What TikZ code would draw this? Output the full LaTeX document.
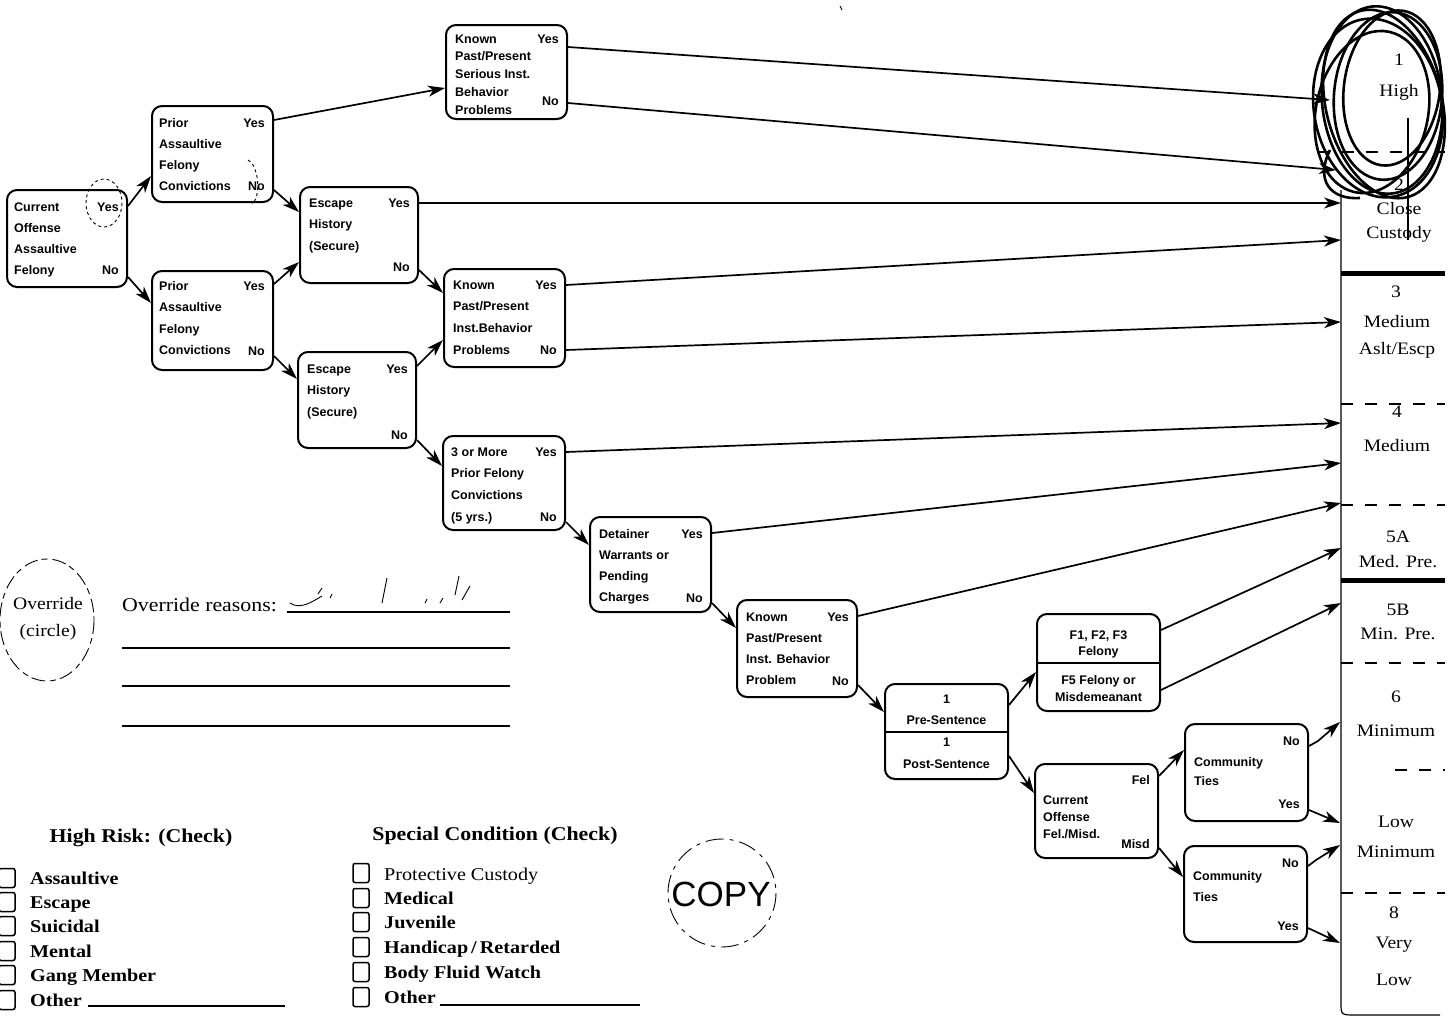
\documentclass[tikz,border=0pt]{standalone}
\usepackage{fontspec}
\setmainfont{Liberation Serif}
\newfontfamily\boxfont{Liberation Sans}
\newfontfamily\ff[FakeStretch=1.12]{Liberation Serif}
\newfontfamily\stampfont{Liberation Sans}
\usetikzlibrary{arrows.meta}

\tikzset{
  qbox/.style={draw, line width=2pt, rounded corners=10pt, inner sep=0pt},
  qtxt/.style={font=\boxfont\bfseries\fontsize{12.5}{14}\selectfont, inner sep=0pt},
  arr/.style={line width=1.7pt, -{Stealth[length=17pt,width=11pt,inset=5pt]}},
  coltxt/.style={font=\ff\fontsize{17.5}{20}\selectfont, inner sep=0pt},
  formtxt/.style={font=\ff\fontsize{18}{22}\selectfont, inner sep=0pt, anchor=base west},
  formbold/.style={font=\ff\bfseries\fontsize{18}{22}\selectfont, inner sep=0pt, anchor=base west},
  chk/.style={draw, line width=1.5pt, rounded corners=2pt, minimum width=16pt, minimum height=19pt, inner sep=0pt},
  sepdash/.style={line width=1.6pt, dash pattern=on 12pt off 12pt},
  septhick/.style={line width=5pt},
  rule/.style={line width=1.4pt},
  scrib/.style={line width=2.6pt},
  hand/.style={line width=0.9pt},
}

\newcommand\qbox[5]{\node[qbox,minimum width={#4-#2},minimum height={#5-#3}] (#1) at ({(#2+#4)/2},{(#3+#5)/2}) {};}
\newcommand\qlines[5]{\foreach \t [count=\i from 0] in {#5} {\node[qtxt,anchor=base west] at ([shift={(#2,{#3+\i*#4})}]#1.north west) {\t};}}
\newcommand\qr[3]{\node[qtxt,anchor=base east] at ([shift={(-9,#2)}]#1.north east) {#3};}
\newcommand\qc[3]{\node[qtxt,anchor=base] at ([shift={(0,#2)}]#1.north) {#3};}

\begin{document}
\begin{tikzpicture}[x=1pt,y=-1pt]
\useasboundingbox (0,0) rectangle (1452,1023);
\fill[white] (0,0) rectangle (1452,1023);

% ---------------- decision boxes ----------------
\qbox{b1}{7}{190}{127}{287}
\qlines{b1}{8}{22}{21}{Current,Offense,Assaultive,Felony}
\qr{b1}{22}{Yes}\qr{b1}{85}{No}

\qbox{b2}{152}{106}{273}{202}
\qlines{b2}{8}{22}{21}{Prior,Assaultive,Felony,Convictions}
\qr{b2}{22}{Yes}\qr{b2}{85}{No}

\qbox{b3}{152}{271}{273}{370}
\qlines{b3}{8}{20}{21.5}{Prior,Assaultive,Felony,Convictions}
\qr{b3}{20}{Yes}\qr{b3}{85}{No}

\qbox{b4}{446}{25}{567}{119}
\qlines{b4}{10}{19}{17.8}{Known,Past/Present,Serious Inst.,Behavior,Problems}
\qr{b4}{19}{Yes}\qr{b4}{81}{No}

\qbox{b5}{300}{187}{418}{283}
\qlines{b5}{10}{21}{21.5}{Escape,History,(Secure)}
\qr{b5}{21}{Yes}\qr{b5}{85}{No}

\qbox{b6}{444}{269}{565}{367}
\qlines{b6}{10}{21}{21.7}{Known,Past/Present,Inst.Behavior,Problems}
\qr{b6}{21}{Yes}\qr{b6}{86}{No}

\qbox{b7}{298}{352}{416}{448}
\qlines{b7}{10}{22}{21.5}{Escape,History,(Secure)}
\qr{b7}{22}{Yes}\qr{b7}{88}{No}

\qbox{b8}{443}{436}{565}{530}
\qlines{b8}{9}{21}{21.7}{3 or More,Prior Felony,Convictions,(5 yrs.)}
\qr{b8}{21}{Yes}\qr{b8}{86}{No}

\qbox{b9}{590}{517}{711}{612}
\qlines{b9}{10}{22}{21.3}{Detainer,Warrants or,Pending,Charges}
\qr{b9}{22}{Yes}\qr{b9}{86}{No}

\qbox{b10}{737}{600}{857}{697}
\qlines{b10}{10}{22}{21.3}{Known,Past/Present,Inst. Behavior,Problem}
\qr{b10}{22}{Yes}\qr{b10}{86}{No}

\qbox{b11}{885}{684}{1008}{779}
\draw[line width=2pt] (b11.west) -- (b11.east);
\qc{b11}{20}{1}\qc{b11}{41}{Pre-Sentence}\qc{b11}{63}{1}\qc{b11}{85}{Post-Sentence}

\qbox{b12}{1037}{614}{1160}{711}
\draw[line width=2pt] (b12.west) -- (b12.east);
\qc{b12}{26}{F1, F2, F3}\qc{b12}{42}{Felony}\qc{b12}{71}{F5 Felony or}\qc{b12}{88}{Misdemeanant}

\qbox{b13}{1035}{764}{1158}{858}
\qlines{b13}{9}{41}{17}{Current,Offense,Fel./Misd.}
\qr{b13}{21}{Fel}\qr{b13}{85}{Misd}

\qbox{b14}{1185}{724}{1308}{821}
\qlines{b14}{10}{43}{19}{Community,Ties}
\qr{b14}{22}{No}\qr{b14}{85}{Yes}

\qbox{b15}{1184}{846}{1307}{942}
\qlines{b15}{10}{35}{21}{Community,Ties}
\qr{b15}{22}{No}\qr{b15}{85}{Yes}

% ---------------- box-to-box connectors ----------------
\draw[arr] (b1.east |- 0,206) -- (b2.west |- 0,176);
\draw[arr] (b1.east |- 0,277) -- (b3.west |- 0,303);
\draw[arr] (b2.east |- 0,120) -- (b4.west |- 0,88);
\draw[arr] (b2.east |- 0,190) -- (b5.west |- 0,212);
\draw[arr] (b3.east |- 0,284) -- (b5.west |- 0,262);
\draw[arr] (b3.east |- 0,356) -- (b7.west |- 0,379);
\draw[arr] (b5.east |- 0,270) -- (b6.west |- 0,293);
\draw[arr] (b7.east |- 0,366) -- (b6.west |- 0,340);
\draw[arr] (b7.east |- 0,440) -- (b8.west |- 0,466);
\draw[arr] (b8.east |- 0,522) -- (b9.west |- 0,545);
\draw[arr] (b9.east |- 0,603) -- (b10.west |- 0,628);
\draw[arr] (b10.east |- 0,685) -- (b11.west |- 0,712);
\draw[arr] (b11.east |- 0,705) -- (b12.west |- 0,672);
\draw[arr] (b11.east |- 0,756) -- (b13.west |- 0,793);
\draw[arr] (b13.east |- 0,776) -- (b14.west |- 0,750);
\draw[arr] (b13.east |- 0,848) -- (b15.west |- 0,877);

% ---------------- custody level column ----------------
\coordinate (c1) at (1330,100);
\coordinate (c2) at (1336,170);
\coordinate (c3) at (1341,203);
\coordinate (c4) at (1341,240);
\coordinate (c5) at (1341,322);
\coordinate (c6) at (1341,423);
\coordinate (c7) at (1341,463);
\coordinate (c8) at (1341,503);
\coordinate (c9) at (1341,548);
\coordinate (c10) at (1341,603);
\coordinate (c11) at (1340,722);
\coordinate (c12) at (1340,823);
\coordinate (c13) at (1340,845);
\coordinate (c14) at (1340,943);

\draw[line width=1.2pt] (1341,190) -- (1341,1003) .. controls (1341,1015) .. (1356,1015) -- (1440,1015);
\draw[sepdash] (1318,152) -- (1445,152);
\draw[septhick] (1341,273) -- (1445,273);
\draw[sepdash] (1341,404) -- (1445,404);
\draw[sepdash] (1341,505) -- (1445,505);
\draw[septhick] (1341,580) -- (1445,580);
\draw[sepdash] (1341,663) -- (1445,663);
\draw[sepdash] (1395,770) -- (1445,770);
\draw[sepdash] (1341,893) -- (1445,893);

\node[coltxt] (k1) at (1399,60) {1};
\node[coltxt] (k1b) at (1399,92) {High};
\node[coltxt] (k2) at (1399,185) {2};
\node[coltxt] (k2b) at (1399,209) {Close};
\node[coltxt] (k2c) at (1399,234) {Custody};
\node[coltxt] (k3) at (1396,292) {3};
\node[coltxt] (k3b) at (1397,322) {Medium};
\node[coltxt] (k3c) at (1397,350) {Aslt/Escp};
\node[coltxt] (k4) at (1397,412) {4};
\node[coltxt] (k4b) at (1397,446) {Medium};
\node[coltxt] (k5) at (1398,537) {5A};
\node[coltxt] (k5b) at (1398,562) {Med. Pre.};
\node[coltxt] (k6) at (1398,610) {5B};
\node[coltxt] (k6b) at (1398,634) {Min. Pre.};
\node[coltxt] (k7) at (1396,697) {6};
\node[coltxt] (k7b) at (1396,731) {Minimum};
\node[coltxt] (k8) at (1396,822) {Low};
\node[coltxt] (k8b) at (1396,852) {Minimum};
\node[coltxt] (k9) at (1394,913) {8};
\node[coltxt] (k9b) at (1394,945) {Very};
\node[coltxt] (k9c) at (1394,980) {Low};

% connectors into the column
\draw[arr] (b4.east |- 0,47) -- (c1);
\draw[arr] (b4.east |- 0,103) -- (c2);
\draw[arr] (b5.east |- 0,203) -- (c3);
\draw[arr] (b6.east |- 0,285) -- (c4);
\draw[arr] (b6.east |- 0,350) -- (c5);
\draw[arr] (b8.east |- 0,452) -- (c6);
\draw[arr] (b9.east |- 0,533) -- (c7);
\draw[arr] (b10.east |- 0,616) -- (c8);
\draw[arr] (b12.east |- 0,630) -- (c9);
\draw[arr] (b12.east |- 0,690) -- (c10);
\draw[arr] (b14.east |- 0,746) -- (1318,741) -- (c11);
\draw[arr] (b14.east |- 0,810) -- (c12);
\draw[arr] (b15.east |- 0,866) -- (1316,860) -- (c13);
\draw[arr] (b15.east |- 0,928) -- (c14);

% hand-drawn scribble around "1 High"
\draw[scrib] (1382,100) ellipse [x radius=60, y radius=94, rotate=6];
\draw[scrib] (1388,96) ellipse [x radius=54, y radius=84, rotate=-5];
\draw[scrib] (1378,108) ellipse [x radius=64, y radius=90, rotate=10];
\draw[scrib] (1392,88) ellipse [x radius=48, y radius=78, rotate=-8];
\draw[scrib] (1384,104) ellipse [x radius=58, y radius=96, rotate=14];
\draw[scrib] (1372,112) ellipse [x radius=56, y radius=82, rotate=-12];
\draw[scrib] (1330,150) .. controls (1315,180) and (1330,200) .. (1360,198);
\draw[line width=1.6pt] (1408,118) -- (1408,240);

% hand marks on first boxes
\draw[hand, dashed] (104,203) ellipse [x radius=18, y radius=24];
\draw[hand, dashed] (248,160) .. controls (258,164) and (262,196) .. (252,204);

% ---------------- override area ----------------
\draw[hand, dash pattern=on 14pt off 4pt on 6pt off 5pt] (47,620) ellipse [x radius=47, y radius=61];
\node[font=\ff\fontsize{17.5}{27}\selectfont, align=center, inner sep=0pt] (ov) at (48,619) {Override\\(circle)};
\node[formtxt, font=\ff\fontsize{19.5}{22}\selectfont] (ovr) at (122,611) {Override reasons:};
\draw[rule] (287,612) -- (510,612);
\draw[rule] (122,648) -- (510,648);
\draw[rule] (122,686) -- (510,686);
\draw[rule] (122,726) -- (510,726);
\draw[hand] (290,603) .. controls (300,610) and (312,602) .. (322,596);
\draw[hand] (318,594) -- (322,588);
\draw[hand] (330,598) -- (332,594);
\draw[hand] (382,603) -- (387,578);
\draw[hand] (425,603) -- (427,599);
\draw[hand] (440,603) -- (443,598);
\draw[hand] (455,595) -- (459,576);
\draw[hand] (462,600) -- (470,586);
\draw[hand] (840,6) -- (842,10);

% ---------------- high risk list ----------------
\node[formbold, font=\ff\bfseries\fontsize{19.5}{22}\selectfont, anchor=base] (hr) at (141,842) {High Risk: (Check)};
\foreach \n/\yy/\t in {1/878/Assaultive,2/902/Escape,3/926/Suicidal,4/951/Mental,5/975/Gang Member,6/1000/Other} {
  \node[chk] (h\n) at (7,\yy) {};
  \node[formbold] (ht\n) at (30,\yy+6) {\t};
}
\draw[rule] (88,1006) -- (285,1006);

% ---------------- special condition list ----------------
\node[formbold, font=\ff\bfseries\fontsize{19.5}{22}\selectfont, anchor=base] (sc) at (495,840) {Special Condition (Check)};
\node[chk] (s1) at (361,873) {};
\node[formtxt] (st1) at (384,880) {Protective Custody};
\foreach \n/\yy/\t in {2/898/Medical,3/922/Juvenile,4/947/{Handicap\,/\,Retarded},5/972/Body Fluid Watch,6/997/Other} {
  \node[chk] (s\n) at (361,\yy) {};
  \node[formbold] (st\n) at (384,\yy+6) {\t};
}
\draw[rule] (440,1005) -- (640,1005);

% ---------------- COPY stamp ----------------
\draw[hand, dash pattern=on 18pt off 6pt on 4pt off 6pt] (722,893) circle [radius=54];
\node[font=\stampfont\fontsize{35}{35}\selectfont, inner sep=0pt] (copy) at (721,894) {COPY};
\end{tikzpicture}
\end{document}
